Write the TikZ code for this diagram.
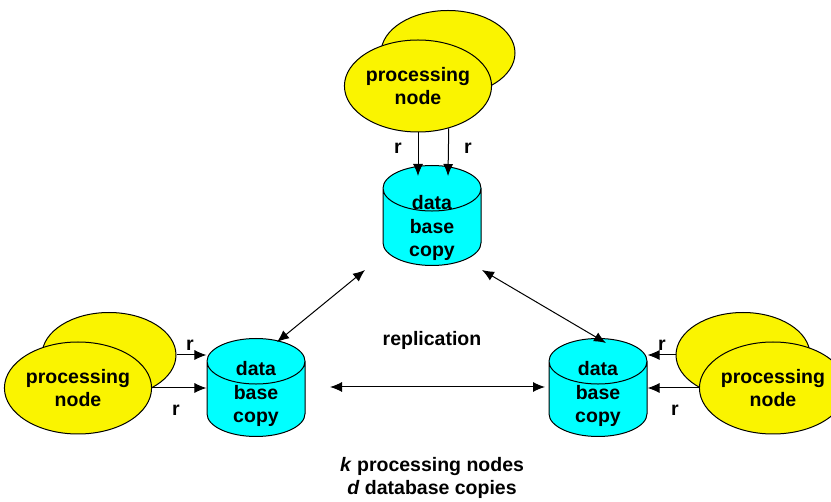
\documentclass[tikz,border=0pt]{standalone}
\usepackage{fontspec}
\setmainfont{Liberation Sans}
\usetikzlibrary{shapes.geometric,arrows.meta,calc}
\definecolor{procyellow}{RGB}{250,244,0}
\definecolor{dbcyan}{RGB}{0,255,255}
% cylinder text, set into the body without sizing the shape
\newcommand{\dbcontent}[1]{\raisebox{#1}[0pt][0pt]{\begin{tabular}[t]{@{}c@{}}data\\base\\copy\end{tabular}}}

\begin{document}
\begin{tikzpicture}[
    x=1pt, y=-1pt,
    font=\fontsize{19.5}{23.5}\selectfont\bfseries,
    procback/.style={ellipse, draw, line width=1pt, fill=procyellow, minimum width=134pt, minimum height=85pt, inner sep=0pt},
    procfront/.style={ellipse, draw, line width=1pt, fill=procyellow, minimum width=137pt, minimum height=92pt, inner sep=0pt, align=center},
    dbcopy/.style={cylinder, shape border rotate=90, aspect=1, draw, line width=1pt, fill=dbcyan, minimum width=98pt, minimum height=98pt, inner sep=0pt, anchor=north},
    arrow/.style={-{Latex[length=12pt, width=10pt]}, line width=1pt},
    rep_arrow/.style={{Latex[length=12pt, width=10pt]}-{Latex[length=12pt, width=10pt]}, line width=1pt},
    label/.style={inner sep=0pt}
]
\useasboundingbox (0,0) rectangle (831,502);
\clip (0,0) rectangle (831,502);

% Top group
\node[procback] (pbtop) at (448,53) {};
\node[procfront] (pftop) at (418,86) {processing\\node};
\node[dbcopy, minimum height=100pt] (dbtop) at (432,165) {\dbcontent{17.5pt}};

% Left group
\node[procback] (pbleft) at (109,355) {};
\node[procfront] (pfleft) at (78,388) {processing\\node};
\node[dbcopy] (dbleft) at (256,338) {\dbcontent{23.5pt}};

% Right group
\node[procback] (pbright) at (743,355) {};
\node[procfront] (pfright) at (773,388) {processing\\node};
\node[dbcopy] (dbright) at (598,338) {\dbcontent{23.5pt}};

% Read arrows
\draw[arrow] (pftop.south) -- ($(dbtop.north)+(-14,11)$);
\draw[arrow] (pftop.-54) -- ($(dbtop.north)+(16,11)$);
\node[label] (rtl) at (398,148) {r};
\node[label] (rtr) at (468,148) {r};

\draw[arrow] (pbleft.east) -- (pbleft.east -| dbleft.west);
\draw[arrow] (pfleft.east) -- (pfleft.east -| dbleft.west);
\node[label] (rlu) at (190,345) {r};
\node[label] (rll) at (176,410) {r};

\draw[arrow] (pbright.west) -- (pbright.west -| dbright.east);
\draw[arrow] (pfright.west) -- (pfright.west -| dbright.east);
\node[label] (rru) at (662,345) {r};
\node[label] (rrl) at (675,410) {r};

% Replication
\draw[rep_arrow] ($(dbtop.south)+(-67,4)$) -- ($(dbleft.north)+(21,4)$);
\draw[rep_arrow] ($(dbtop.south)+(50,4)$) -- ($(dbright.north)+(8,5)$);
\draw[rep_arrow] ($(dbleft.north)+(74,49)$) -- ($(dbright.north)+(-53,49)$);
\node[label] (repl) at (432,340) {replication};

% Legend
\node[align=center] (legend) at (432,478) {\textit{k} processing nodes\\\textit{d} database copies};

\end{tikzpicture}
\end{document}
